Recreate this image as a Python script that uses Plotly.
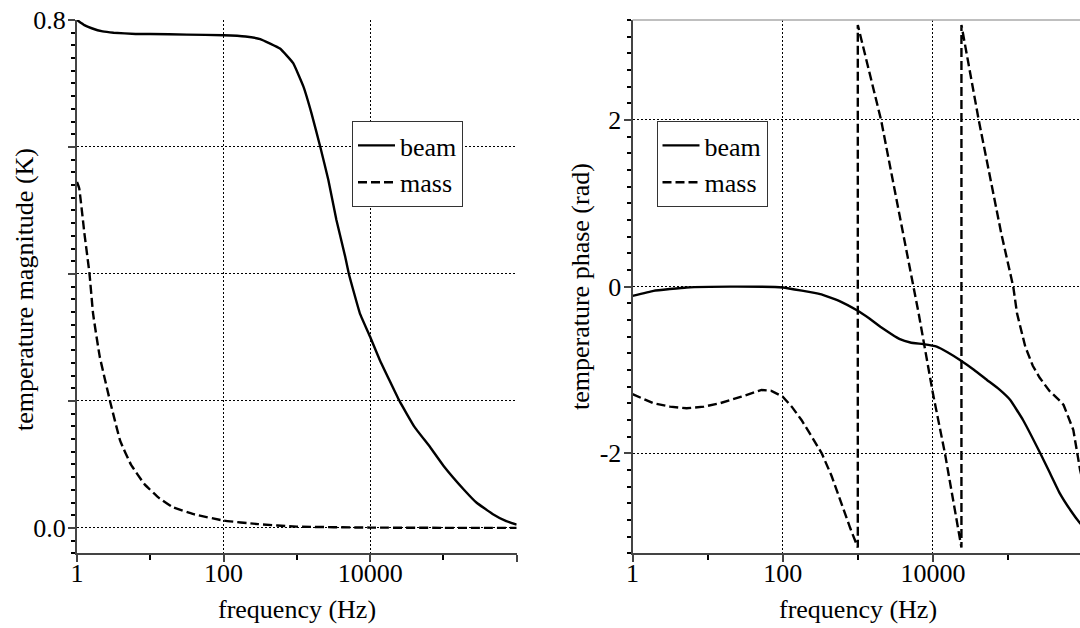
import plotly.graph_objects as go

# ---- magnitude response (left panel) ----
mag_logf_beam = [0.0, 0.1, 0.2, 0.35, 0.5, 0.8, 1.0, 1.5, 2.0, 2.3, 2.5, 2.77, 2.95, 3.09,
                 3.2, 3.32, 3.43, 3.54, 3.66, 3.71, 3.86, 4.0, 4.13, 4.4, 4.6, 4.82, 5.0,
                 5.29, 5.45, 5.67, 5.85, 6.0]
mag_beam = [0.800, 0.792, 0.787, 0.782, 0.780, 0.778, 0.778, 0.777, 0.776, 0.774, 0.770,
            0.755, 0.732, 0.695, 0.653, 0.600, 0.548, 0.485, 0.427, 0.400, 0.338, 0.301,
            0.265, 0.200, 0.160, 0.127, 0.098, 0.059, 0.040, 0.022, 0.011, 0.005]

mag_logf_mass = [0.0, 0.03, 0.1, 0.17, 0.22, 0.31, 0.45, 0.59, 0.735, 0.92, 1.11, 1.30,
                 1.58, 2.0, 2.47, 3.0, 4.0, 5.0, 6.0]
mag_mass = [0.545, 0.535, 0.465, 0.401, 0.337, 0.270, 0.200, 0.137, 0.100, 0.069, 0.048,
            0.033, 0.022, 0.0115, 0.006, 0.002, 0.0005, 0.0001, 0.0]

# ---- phase response (right panel) ----
ph_logf_beam = [0.0, 0.28, 0.72, 1.3, 2.0, 2.5, 2.75, 3.0, 3.15, 3.3, 3.45, 3.56, 3.7,
                3.87, 4.05, 4.2, 4.36, 4.55, 4.72, 4.88, 5.03, 5.2, 5.43, 5.56, 5.69,
                5.83, 5.96, 6.0]
ph_beam = [-0.11, -0.05, -0.01, 0.0, -0.01, -0.09, -0.17, -0.29, -0.38, -0.48, -0.57,
           -0.63, -0.67, -0.69, -0.72, -0.79, -0.88, -1.0, -1.12, -1.23, -1.36, -1.60,
           -2.0, -2.24, -2.48, -2.68, -2.84, -2.88]

ph_logf_mass = [0.0, 0.28, 0.5, 0.72, 0.95, 1.16, 1.45, 1.72, 1.85, 2.0, 2.12, 2.25, 2.38,
                2.52, 2.65, 2.77, 2.9, 3.0, 3.0, 3.31, 3.55, 3.81, 4.0, 4.16, 4.38, 4.38,
                4.61, 4.91, 5.07, 5.12, 5.23, 5.33, 5.42, 5.55, 5.69, 5.74, 5.87, 5.96, 6.0]
ph_mass = [-1.29, -1.40, -1.44, -1.46, -1.44, -1.40, -1.32, -1.24, -1.25, -1.32, -1.44,
           -1.60, -1.79, -2.0, -2.27, -2.58, -2.90, -3.13, 3.14, 2.0, 0.9, -0.32, -1.28,
           -2.0, -3.13, 3.14, 2.0, 0.64, 0.0, -0.32, -0.72, -0.95, -1.09, -1.25, -1.37,
           -1.42, -1.72, -2.2, -2.35]

mag_alias = {"0.2": "", "0.4": "", "0.6": ""}
ph_alias = {"\u22122": "-2"}
x_alias = {"1000000": ""}

FONT = "Liberation Serif"
FS = 26
W, H = 1080, 628
AXC = "#444"


def freq(logs):
    return [10 ** v for v in logs]


line_solid = dict(color="black", width=2.4, shape="spline", smoothing=0.3)
line_dash = dict(color="black", width=2.4, dash="9px,4px", shape="spline", smoothing=0.3)
line_dash_wrap = dict(color="black", width=2.4, dash="9px,4px")

fig = go.Figure()
fig.add_trace(go.Scatter(x=freq(mag_logf_beam), y=mag_beam, mode="lines", name="beam",
                         line=line_solid, xaxis="x", yaxis="y", legend="legend"))
fig.add_trace(go.Scatter(x=freq(mag_logf_mass), y=mag_mass, mode="lines", name="mass",
                         line=line_dash, xaxis="x", yaxis="y", legend="legend"))
fig.add_trace(go.Scatter(x=freq(ph_logf_beam), y=ph_beam, mode="lines", name="beam",
                         line=line_solid, xaxis="x2", yaxis="y2", legend="legend2"))
fig.add_trace(go.Scatter(x=freq(ph_logf_mass), y=ph_mass, mode="lines", name="mass",
                         line=line_dash_wrap, xaxis="x2", yaxis="y2", legend="legend2"))

axis_common = dict(
    showline=True, linecolor=AXC, linewidth=2,
    ticks="outside", tickcolor=AXC, tickwidth=1.5, ticklen=7,
    showgrid=True, gridcolor="black", gridwidth=1, griddash="2px,2px",
    zeroline=False, tickfont=dict(family=FONT, size=FS, color="black"),
    automargin=False,
)
x_common = dict(type="log", tickmode="linear", tick0=0, dtick=2, tickformat="d",
                labelalias=x_alias, ticklabelstandoff=-12,
                minor=dict(tickmode="linear", tick0=0, dtick=1, ticks="outside",
                           ticklen=5, tickcolor="black", tickwidth=1.5, showgrid=False))
y_minor = dict(ticks="outside", ticklen=4, tickcolor="black", tickwidth=1.5,
               showgrid=False, tickmode="linear", tick0=0)

top = 1 - 20 / H
bottom = 1 - 553.3 / H
left_dom = [77 / W, 516.7 / W]
right_dom = [632.5 / W, 1.0]

legend_style = dict(xanchor="left", yanchor="top", bgcolor="white", bordercolor="#333",
                    borderwidth=1, itemwidth=37,
                    font=dict(family=FONT, size=FS, color="black"))

fig.update_layout(
    width=W, height=H, autosize=False,
    margin=dict(l=0, r=0, t=0, b=0),
    paper_bgcolor="white", plot_bgcolor="white",
    font=dict(family=FONT, size=FS, color="black"),
    xaxis=dict(axis_common, **x_common, range=[0, 6], domain=left_dom, anchor="y"),
    yaxis=dict(axis_common, range=[-0.04, 0.8], domain=[bottom, top], anchor="x",
               tickmode="linear", tick0=0, dtick=0.2, tickformat=".1f",
               labelalias=mag_alias, ticklabelstandoff=-3,
               minor=dict(y_minor, dtick=0.02)),
    xaxis2=dict(axis_common, **x_common, range=[0, (1080 - 632.5) / 75.1],
                domain=right_dom, anchor="y2"),
    yaxis2=dict(axis_common, range=[-3.2, 3.2], domain=[bottom, top], anchor="x2",
                tickmode="linear", tick0=0, dtick=2, labelalias=ph_alias,
                ticklabelstandoff=-3,
                minor=dict(y_minor, dtick=0.2)),
    legend=dict(legend_style, x=352 / W, y=1 - 121 / H),
    legend2=dict(legend_style, x=656.5 / W, y=1 - 121 / H),
    showlegend=True,
)

# frame line along the top of the phase panel
fig.add_shape(type="line", xref="paper", yref="paper", x0=right_dom[0], x1=1.0,
              y0=top, y1=top, line=dict(color="#aaa", width=1.5))

# axis titles
titles = [
    dict(text="frequency (Hz)", x=297 / W, y=1 - 609 / H, textangle=0),
    dict(text="frequency (Hz)", x=857.5 / W, y=1 - 609 / H, textangle=0),
    dict(text="temperature magnitude (K)", x=24 / W, y=1 - 290 / H, textangle=-90),
    dict(text="temperature phase (rad)", x=580 / W, y=1 - 287 / H, textangle=-90),
]
for t in titles:
    fig.add_annotation(text=t["text"], x=t["x"], y=t["y"], xref="paper", yref="paper",
                       xanchor="center", yanchor="middle", showarrow=False,
                       textangle=t["textangle"],
                       font=dict(family=FONT, size=FS, color="black"))

fig.write_html("out.html")
